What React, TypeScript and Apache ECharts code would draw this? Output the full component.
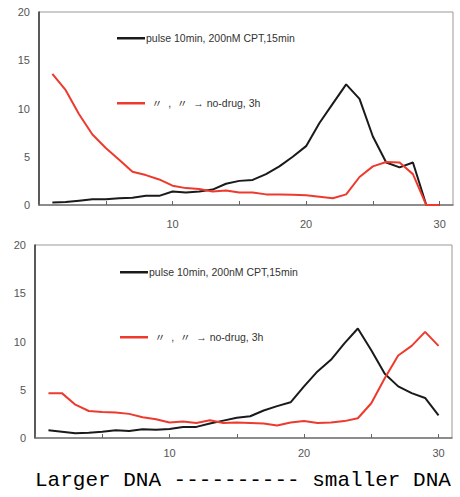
import React, { useEffect, useRef } from "react";
import * as echarts from "echarts";

const fractions = Array.from({ length: 30 }, (_, i) => i + 1);
const topPulse = [0.25, 0.3, 0.45, 0.6, 0.6, 0.7, 0.75, 0.95, 0.95, 1.4, 1.3, 1.4, 1.6, 2.2, 2.5, 2.6, 3.2, 4.0, 5.0, 6.1, 8.5, 10.5, 12.5, 11.0, 7.1, 4.4, 3.9, 4.4, 0, 0];
const topNoDrug = [13.6, 11.9, 9.4, 7.3, 5.9, 4.7, 3.45, 3.1, 2.65, 2.0, 1.75, 1.65, 1.4, 1.5, 1.3, 1.3, 1.1, 1.1, 1.05, 1.0, 0.85, 0.7, 1.1, 2.9, 4.0, 4.45, 4.4, 3.2, 0, 0];
const bottomPulse = [0.8, 0.65, 0.5, 0.55, 0.65, 0.8, 0.72, 0.9, 0.85, 0.93, 1.15, 1.15, 1.5, 1.8, 2.1, 2.25, 2.85, 3.3, 3.7, 5.35, 6.9, 8.1, 9.8, 11.35, 9.1, 6.65, 5.35, 4.65, 4.15, 2.35];
const bottomNoDrug = [4.65, 4.65, 3.45, 2.8, 2.7, 2.65, 2.5, 2.15, 1.95, 1.6, 1.7, 1.55, 1.85, 1.55, 1.6, 1.55, 1.5, 1.3, 1.6, 1.75, 1.55, 1.6, 1.75, 2.05, 3.6, 6.2, 8.55, 9.55, 11.0, 9.55];
const pulseName = "pulse 10min, 200nM CPT,15min";
const noDrugName = "  〃  ,  〃  → no-drug, 3h";
const caption = "Larger DNA ---------- smaller DNA";
const xLabels = [10, 20, 30];

const pairs = (ys: number[]) => fractions.map((x, i) => [x, ys[i]]);

export default function App() {
  const ref = useRef<HTMLDivElement>(null);
  useEffect(() => {
    document.body.style.margin = "0";
    const chart = echarts.init(ref.current!, null, { renderer: "svg" });
    const axisFont = { color: "#555", fontSize: 11, fontFamily: "Arial, Liberation Sans, sans-serif" };
    const xAxisBase = (gridIndex: number, margin: number) => ({
      type: "value",
      gridIndex,
      min: 0,
      max: 31,
      interval: 5,
      splitLine: { show: false },
      axisLine: { lineStyle: { color: "#777", width: 1.5 } },
      axisTick: { inside: true, length: 4, lineStyle: { color: "#666" } },
      axisLabel: {
        ...axisFont,
        margin,
        showMaxLabel: false,
        formatter: (v: number) => (xLabels.includes(v) ? String(v) : ""),
      },
    });
    const yAxisBase = (gridIndex: number, margin: number) => ({
      type: "value",
      gridIndex,
      min: 0,
      max: 20,
      interval: 5,
      splitLine: { show: false },
      axisLine: { show: true, lineStyle: { color: "#333", width: 1.5 } },
      axisTick: { show: false },
      axisLabel: { ...axisFont, margin },
    });
    const legendBase = (name: string, left: number, top: number) => ({
      data: [name],
      left,
      top,
      padding: 0,
      icon: "rect",
      itemWidth: 28,
      itemHeight: 2.5,
      selectedMode: false,
      textStyle: { color: "#333", fontSize: 10.5, fontFamily: "Arial, Liberation Sans, Noto Sans CJK JP, sans-serif", padding: [0, 0, 0, -4] },
    });
    const lineSeries = (name: string, color: string, data: number[], idx: number) => ({
      type: "line",
      name,
      xAxisIndex: idx,
      yAxisIndex: idx,
      data: pairs(data),
      symbol: "none",
      lineStyle: { color, width: 2 },
      itemStyle: { color },
    });
    chart.setOption({
      animation: false,
      grid: [
        { left: 39, right: 7, top: 12, height: 193, show: true, borderColor: "#999", borderWidth: 1 },
        { left: 35, right: 8, top: 245, height: 193, show: true, borderColor: "#999", borderWidth: 1 },
      ],
      xAxis: [xAxisBase(0, 13), xAxisBase(1, 9)],
      yAxis: [yAxisBase(0, 9), yAxisBase(1, 9)],
      legend: [
        legendBase(pulseName, 117, 33),
        legendBase(noDrugName, 117, 98),
        legendBase(pulseName, 120, 267),
        legendBase(noDrugName, 120, 332),
      ],
      series: [
        lineSeries(pulseName, "#1a1a1a", topPulse, 0),
        lineSeries(noDrugName, "#ee3a2e", topNoDrug, 0),
        lineSeries(pulseName, "#1a1a1a", bottomPulse, 1),
        lineSeries(noDrugName, "#ee3a2e", bottomNoDrug, 1),
      ],
      graphic: [
        {
          type: "text",
          left: 35,
          top: 470,
          style: { text: caption, fill: "#000", fontSize: 21, fontFamily: "Liberation Mono, monospace" },
        },
      ],
    });
    return () => chart.dispose();
  }, []);
  return <div ref={ref} style={{ width: 460, height: 497 }} />;
}
